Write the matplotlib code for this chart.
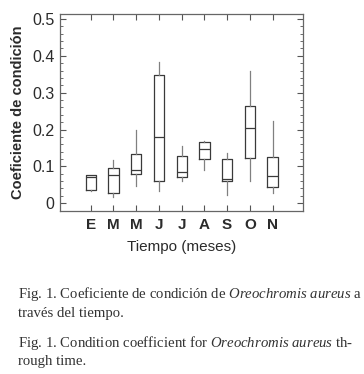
import matplotlib
matplotlib.use("Agg")
import matplotlib.pyplot as plt
from matplotlib.ticker import MultipleLocator

# months (Spanish initials) and box statistics
months = ["E", "M", "M", "J", "J", "A", "S", "O", "N"]
q1 = [0.036, 0.029, 0.080, 0.060, 0.071, 0.120, 0.060, 0.122, 0.043]
med = [0.072, 0.077, 0.090, 0.179, 0.084, 0.147, 0.067, 0.205, 0.073]
q3 = [0.077, 0.095, 0.134, 0.347, 0.129, 0.166, 0.120, 0.265, 0.126]
whislo = [0.033, 0.018, 0.047, 0.032, 0.059, 0.089, 0.021, 0.059, 0.027]
whishi = [0.077, 0.117, 0.199, 0.383, 0.154, 0.168, 0.137, 0.358, 0.224]
yticks = [0, 0.1, 0.2, 0.3, 0.4, 0.5]
ytick_labels = ["0", "0.1", "0.2", "0.3", "0.4", "0.5"]

plt.rcParams["font.family"] = ["Liberation Sans", "DejaVu Sans"]
plt.rcParams["mathtext.fontset"] = "custom"
plt.rcParams["mathtext.it"] = "Liberation Serif:italic"
plt.rcParams["mathtext.rm"] = "Liberation Serif"

txt = "#2b2b2b"
fig = plt.figure(figsize=(3.64, 3.74), dpi=100)
ax = fig.add_axes([0.165, 0.436, 0.667, 0.527])

stats = []
for i in range(len(months)):
    stats.append({"med": med[i], "q1": q1[i], "q3": q3[i],
                  "whislo": whislo[i], "whishi": whishi[i], "fliers": []})
pos = list(range(1, len(months) + 1))
ax.bxp(stats, positions=pos, widths=0.45, showcaps=False,
       boxprops=dict(color="#3a3a3a", linewidth=0.9),
       medianprops=dict(color="#3a3a3a", linewidth=0.9),
       whiskerprops=dict(color="#808080", linewidth=0.9))

ax.set_xlim(-0.35, 10.33)
ax.set_ylim(-0.021, 0.514)
ax.set_xticks(pos)
ax.set_xticklabels(months, fontsize=11, fontweight="bold", color=txt)
ax.set_yticks(yticks)
ax.set_yticklabels(ytick_labels, fontsize=11.5, color=txt)
ax.yaxis.set_minor_locator(MultipleLocator(0.02))
ax.tick_params(which="both", direction="in", top=True, right=True, color="#555555")
ax.tick_params(which="major", length=4, width=0.8)
ax.tick_params(which="minor", length=2, width=0.6)
ax.tick_params(axis="x", pad=5)
ax.tick_params(axis="y", pad=4)
for s in ax.spines.values():
    s.set_color("#666666")
    s.set_linewidth(0.9)

ax.set_ylabel("Coeficiente de condición", fontsize=10.5, fontweight="bold", color=txt, labelpad=5)
ax.set_xlabel("Tiempo (meses)", fontsize=11, color=txt, labelpad=6)

cap = dict(fontsize=10.6, color="#333333", family="Liberation Serif")
fig.text(18 / 364, 1 - 294 / 374, r"Fig. 1. Coeficiente de condición de $\it{Oreochromis\ aureus}$ a", va="center", **cap)
fig.text(18 / 364, 1 - 314 / 374, "través del tiempo.", va="center", **cap)
fig.text(18 / 364, 1 - 343 / 374, r"Fig. 1. Condition coefficient for $\it{Oreochromis\ aureus}$ th-", va="center", **cap)
fig.text(18 / 364, 1 - 361 / 374, "rough time.", va="center", **cap)

fig.savefig("out.png", dpi=100)
